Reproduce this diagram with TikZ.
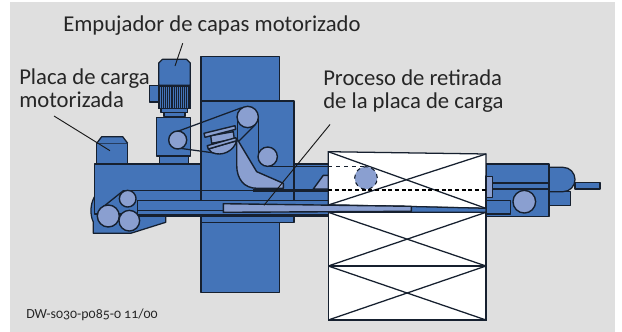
\documentclass[tikz,border=0pt]{standalone}
\usepackage{fontspec}
\setmainfont[Numbers=OldStyle]{Carlito}
\definecolor{bgg}{HTML}{DFDFDF}
\definecolor{bl}{HTML}{4474B8}
\definecolor{lb}{HTML}{8A9FD0}
\definecolor{ln}{HTML}{16202F}
\tikzset{
 blk/.style={fill=bl,draw=ln,line width=0.95pt,line join=round},
 lt/.style={fill=lb,draw=ln,line width=1.05pt,line join=round},
 wh/.style={fill=white,draw=ln,line width=0.95pt},
 thin line/.style={draw=ln,line width=0.95pt},
 lbl/.style={font=\fontsize{17}{17.3}\selectfont,text=black!85,inner sep=0pt,align=left,anchor=north west},
 lead/.style={draw=black!90,line width=0.7pt},
 pulley/.style={circle,lt,inner sep=0pt}
}
\begin{document}
\begin{tikzpicture}[x=0.75pt,y=-0.75pt]
\useasboundingbox (0,0) rectangle (622,332);
\fill[white] (0,0) rectangle (622,332);
\fill[bgg] (10,2) rectangle (615,331.5);
% tall column
\draw[blk] (201,56.7) rectangle (279.3,292.7);
% lower-left housing
\draw[blk] (94.3,197) .. controls (90,205) and (90,215) .. (93.3,222) -- (93.3,233.3) -- (130.7,233.3) -- (165.7,222.3) -- (165.7,214) -- (94.3,197);
% base body
\draw[blk] (94.3,164) -- (201,164) -- (201,216) -- (138,216) -- (138,214) -- (94.3,214) -- cycle;
% motor bracket
\draw[blk] (159.3,156) rectangle (188.3,164);
\draw[blk] (156.7,117.3) rectangle (190.3,156);
\draw[blk] (164,112.7) rectangle (185,116.7);
\draw[blk] (161,108.3) rectangle (187.7,112.7);
\draw[blk] (149.3,85.3) rectangle (158.7,102);
% motor head
\draw[blk] (158.7,85.3) -- (158.7,63) -- (162.5,59.3) -- (186.5,59.3) -- (190.3,63) -- (190.3,85.3) -- cycle;
\fill[ln] (158.7,85.3) rectangle (190.3,108.3);
\foreach \x in {160.3,162.4,...,189}{\draw[bl,line width=0.6pt] (\x,87)--(\x,108);}
\draw[ln,line width=0.95pt] (158.7,85.3) rectangle (190.3,108.3);
% left small motor
\draw[blk] (96.7,143.3) rectangle (127.7,164);
\draw[blk] (96.7,143.3) -- (101.7,136.7) -- (122.7,136.7) -- (127.7,143.3);
% center block
\draw[blk] (201,101) rectangle (294,222.7);
% right housing
\draw[blk] (294,164) rectangle (340,216);
% belt lines, upper
\draw[thin line] (176.7,131.7) -- (241.7,107.7);
\draw[thin line] (180,148.3) -- (216.7,153.3);
% cam
\draw[lt] (208.3,149) -- (236.7,140.7) .. controls (234,151) and (222,157) .. (212,152.5) -- cycle;
\draw[lt] (210.7,135.7) -- (233.3,131.7) -- (234.3,139) -- (211.7,143.3) -- cycle;
\draw[lt] (204,133.3) -- (235,125.7) -- (235.7,129.3) -- (205,137.3) -- cycle;
\draw[lt] (207.3,145.7) -- (235.7,137.7) -- (236.7,140.7) -- (208.3,149) -- cycle;
% lever
\draw[lt] (236.7,138.3) -- (236.7,165) .. controls (236.7,179) and (244,188.3) .. (257,188.3) -- (283.3,188.3) -- (283.3,183.3) -- (256.7,171.7) -- cycle;
\draw[thin line] (238.3,141.7) -- (255,125);
\draw[thin line] (258.3,117) -- (258.3,157);
\draw[thin line] (237.3,117) -- (237.3,140);
\draw[thin line] (267.7,166.7) -- (340,166.7);
\node[pulley,minimum size=16pt] (p1) at (247.7,117) {};
\node[pulley,minimum size=14.5pt] (p3) at (267.7,156.7) {};
\node[pulley,minimum size=13.5pt] (p2) at (177.7,140) {};
% lower rails
\draw[blk] (137.7,200.7) -- (340,200.7) -- (340,214.3) -- (137.7,214.3) -- cycle;
\draw[thin line] (137.7,210.7) -- (340,210.7);
\draw[ln,line width=0.95pt] (138,216) -- (340,216);
\draw[thin line,line width=1.2pt] (123.3,190.5) -- (253,190.5);
\draw[ln,line width=1.7pt] (253,190.5) -- (330,190.5);
\draw[thin line] (103.3,206.7) -- (123.3,190.7);
% slanted wedge
\draw[lt] (313.3,189) -- (323.3,175.3) -- (330,175.3) -- (330,189) -- cycle;
% bottom left pulleys
\node[pulley,minimum size=16.5pt] (q1) at (108.3,216) {};
\node[pulley,minimum size=15.5pt] (q2) at (129.3,220.7) {};
\node[pulley,minimum size=12.5pt] (q3) at (127.7,198.7) {};
% right parts
\draw[blk] (549,191.7) rectangle (570.7,205.3);
\draw[blk] (575,182.3) rectangle (600,189);
\draw[blk] (549,167.3) -- (563,167.3) .. controls (570,167.3) and (575,173) .. (575,179.5) .. controls (575,186) and (570,191.7) .. (563,191.7) -- (549,191.7);
\draw[blk] (486,164) rectangle (549,216.3);
\draw[thin line,line width=1.3pt] (492,182.7) -- (549,182.7);
\draw[thin line] (486,189) -- (549,189);
\draw[blk] (486,200.7) rectangle (510.7,214);
\draw[lt,line width=0.95pt] (486,176.7) rectangle (492.3,197.3);
\node[pulley,minimum size=17pt] (r1) at (524.3,201.7) {};
% white boxes
\draw[wh] (328.3,151.7) -- (486,154) -- (485.7,208.3) -- (328.3,205) -- cycle;
\draw[thin line] (328.3,151.7) -- (485.7,208.3);
\draw[thin line] (328.3,205) -- (486,154);
\draw[wh] (328.3,212.3) rectangle (486,266);
\draw[thin line] (328.3,212.3) -- (486,266);
\draw[thin line] (328.3,266) -- (486,212.3);
\draw[wh] (328.3,266) rectangle (486,320);
\draw[thin line] (328.3,266) -- (486,320);
\draw[thin line] (328.3,320) -- (486,266);
% plate
\draw[blk] (328.3,205) -- (411.3,206.5) -- (486,208.3) -- (486,212.3) -- (328.3,212.3) -- cycle;
\draw[lt] (223.3,203.7) -- (411.3,206.3) -- (411.3,211.3) -- (223.3,212.3) -- cycle;
% dashed
\node[circle,fill=lb,draw=ln,dashed,line width=0.8pt,minimum size=17pt,inner sep=0pt] (d) at (366,178) {};
\draw[ln,dashed,line width=0.9pt] (328.3,166.7) -- (370,166.7);
\draw[black,densely dashed,line width=1.3pt] (328.3,189.7) -- (486,189.7);
% labels
\node[lbl] (t1) at (63,15) {Empujador de capas motorizado};
\node[lbl] (t2) at (19,68) {Placa de carga\\motorizada};
\node[lbl] (t3) at (323,69) {Proceso de retirada\\de la placa de carga};
\node[font=\fontsize{10.4}{11}\selectfont,anchor=west,inner sep=0pt,text=black!85] (t4) at (26,315) {DW-s030-p085-0 11/00};
% leaders
\coordinate (a1) at (182.7,43.3);
\coordinate (a2) at (175,66);
\coordinate (b1) at (54,116);
\coordinate (b2) at (110,150.7);
\coordinate (c1) at (330,124.5);
\coordinate (c2) at (264,205.3);
\draw[lead] (a1) -- (a2);
\draw[lead] (b1) -- (b2);
\draw[lead] (c1) -- (c2);
\end{tikzpicture}
\end{document}
